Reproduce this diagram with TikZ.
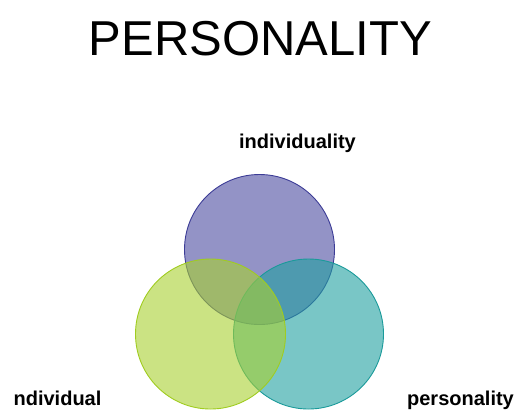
\documentclass[tikz,border=0pt]{standalone}
\usepackage{fontspec}
\setmainfont{Liberation Sans}
\definecolor{topfill}{HTML}{4B4BA0}
\definecolor{topline}{HTML}{3C3C96}
\definecolor{leftfill}{HTML}{A8D030}
\definecolor{leftline}{HTML}{A0CC20}
\definecolor{rightfill}{HTML}{20A0A0}
\definecolor{rightline}{HTML}{1A9A9A}
\begin{document}
\begin{tikzpicture}[x=1bp,y=-1bp,
  venn/.style={circle, minimum size=150bp, inner sep=0pt, fill opacity=0.6, line width=0.9bp},
  lbl/.style={inner sep=0pt, anchor=base, font=\fontsize{20bp}{24bp}\selectfont\bfseries},
  ttl/.style={inner sep=0pt, anchor=base, font=\fontsize{49bp}{58bp}\selectfont}]
\useasboundingbox (0,0) rectangle (515,410);
\node[ttl] (title) at (260.5,55) {PERSONALITY};
\begin{scope}
\clip (0,0) rectangle (515,410);
\node[venn, fill=topfill, draw=topline] (top) at (259.5,249.5) {};
\node[venn, fill=rightfill, draw=rightline] (right) at (308.5,334) {};
\node[venn, fill=leftfill, draw=leftline] (left) at (210.5,334) {};
\end{scope}
\node[lbl] (ltop) at (297.5,148) {individuality};
\node[lbl] (lleft) at (57.5,405) {ndividual};
\node[lbl] (lright) at (460.5,405) {personality};
\end{tikzpicture}
\end{document}
